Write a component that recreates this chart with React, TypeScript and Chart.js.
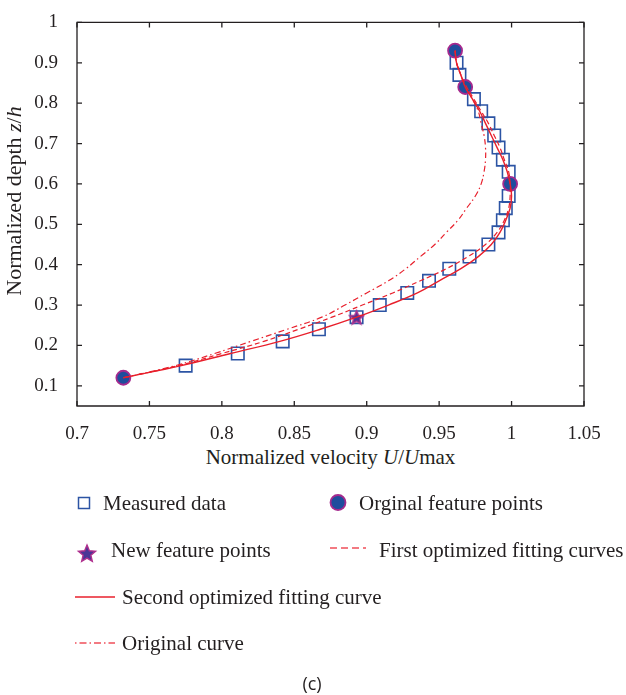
import React, { useEffect, useRef } from 'react';
import { Chart, registerables } from 'chart.js';

Chart.register(...registerables);

// ---- data ----
const measuredDepth = [0.15, 0.18, 0.21, 0.24, 0.27, 0.30, 0.33, 0.36, 0.39, 0.42, 0.45, 0.48, 0.51, 0.54, 0.57, 0.63, 0.66, 0.69, 0.72, 0.75, 0.78, 0.81, 0.87, 0.90];
const measuredVelocity = [0.775, 0.811, 0.842, 0.867, 0.893, 0.909, 0.928, 0.943, 0.957, 0.971, 0.984, 0.991, 0.994, 0.996, 0.998, 0.998, 0.994, 0.991, 0.988, 0.984, 0.979, 0.974, 0.964, 0.962];

const originalFeatureDepth = [0.12, 0.60, 0.84, 0.93];
const originalFeatureVelocity = [0.732, 0.999, 0.968, 0.961];

const newFeatureDepth = [0.27];
const newFeatureVelocity = [0.893];

const curveDepth = [0.12, 0.15, 0.18, 0.21, 0.24, 0.27, 0.30, 0.33, 0.36, 0.39, 0.42, 0.45, 0.48, 0.51, 0.54, 0.57, 0.60, 0.63, 0.66, 0.69, 0.72, 0.75, 0.78, 0.81, 0.84, 0.87, 0.90, 0.93];
const firstFitVelocity = [0.732, 0.770, 0.800, 0.829, 0.853, 0.876, 0.897, 0.918, 0.937, 0.955, 0.970, 0.982, 0.990, 0.995, 0.998, 0.999, 0.999, 0.998, 0.995, 0.992, 0.988, 0.984, 0.979, 0.974, 0.969, 0.965, 0.962, 0.961];
const secondFitVelocity = [0.732, 0.772, 0.806, 0.840, 0.868, 0.893, 0.915, 0.935, 0.950, 0.965, 0.977, 0.986, 0.992, 0.996, 0.999, 1.000, 0.999, 0.997, 0.994, 0.990, 0.986, 0.982, 0.978, 0.973, 0.968, 0.965, 0.962, 0.961];
const originalCurveVelocity = [0.732, 0.768, 0.795, 0.820, 0.845, 0.869, 0.885, 0.900, 0.915, 0.927, 0.937, 0.947, 0.955, 0.963, 0.969, 0.975, 0.979, 0.981, 0.982, 0.982, 0.981, 0.979, 0.977, 0.973, 0.968, 0.965, 0.962, 0.961];

const xTicks = [0.7, 0.75, 0.8, 0.85, 0.9, 0.95, 1, 1.05];
const yTicks = [0.1, 0.2, 0.3, 0.4, 0.5, 0.6, 0.7, 0.8, 0.9, 1];
const xTickLabels = ['0.7', '0.75', '0.8', '0.85', '0.9', '0.95', '1', '1.05'];
const yTickLabels = ['0.1', '0.2', '0.3', '0.4', '0.5', '0.6', '0.7', '0.8', '0.9', '1'];

const xTitleText = ['Normalized velocity ', 'U', '/', 'U', 'max'];
const yTitleText = ['Normalized depth ', 'z', '/', 'h'];
const legendLabels = ['Measured data', 'Orginal feature points', 'New feature points', 'First optimized fitting curves', 'Second optimized fitting curve', 'Original curve'];
const captionText = '(c)';

// ---- styles ----
const RED = '#e8202c';
const SQ_BLUE = '#2c54a4';
const DOT_FILL = '#1f4d9d';
const DOT_EDGE = '#a52a8e';
const STAR_FILL = '#4a3596';
const TEXT = '#231f20';
const SERIF = '"Liberation Serif", "DejaVu Serif", serif';

function makeStar(size: number, fill: string, stroke: string) {
  const c = document.createElement('canvas');
  c.width = size;
  c.height = size;
  const g = c.getContext('2d')!;
  const cx = size / 2;
  const cy = size / 2 + 0.8;
  const R = size / 2 - 1.2;
  const r = R * 0.45;
  g.beginPath();
  for (let i = 0; i < 10; i++) {
    const a = -Math.PI / 2 + (i * Math.PI) / 5;
    const rad = i % 2 ? r : R;
    g.lineTo(cx + rad * Math.cos(a), cy + rad * Math.sin(a));
  }
  g.closePath();
  g.fillStyle = fill;
  g.fill();
  g.strokeStyle = stroke;
  g.lineWidth = 1.4;
  g.stroke();
  return c;
}

const framePlugin = {
  id: 'frameTicks',
  afterDatasetsDraw(chart: any) {
    const { ctx, chartArea, scales } = chart;
    const { left, right, top, bottom } = chartArea;
    const x = scales.x;
    const y = scales.y;
    ctx.save();
    ctx.strokeStyle = TEXT;
    ctx.lineWidth = 1.3;
    ctx.beginPath();
    ctx.rect(left, top, right - left, bottom - top);
    ctx.stroke();
    ctx.beginPath();
    const tl = 5;
    xTicks.forEach((v) => {
      const px = x.getPixelForValue(v);
      ctx.moveTo(px, bottom);
      ctx.lineTo(px, bottom - tl);
      ctx.moveTo(px, top);
      ctx.lineTo(px, top + tl);
    });
    yTicks.forEach((v) => {
      const py = y.getPixelForValue(v);
      ctx.moveTo(left, py);
      ctx.lineTo(left + tl, py);
      ctx.moveTo(right, py);
      ctx.lineTo(right - tl, py);
    });
    ctx.stroke();
    ctx.restore();
  },
};

function pts(xs: number[], ys: number[]) {
  return xs.map((v, i) => ({ x: v, y: ys[i] }));
}

function ChartCanvas() {
  const ref = useRef<HTMLCanvasElement>(null);
  useEffect(() => {
    const canvas = ref.current!;
    const star = makeStar(17, STAR_FILL, '#b0308e');
    const curveBase = { showLine: true, pointRadius: 0, tension: 0.4, fill: false, borderColor: RED, order: 0 };
    const chart = new Chart(canvas, {
      type: 'scatter',
      data: {
        datasets: [
          { ...curveBase, label: legendLabels[5], data: pts(originalCurveVelocity, curveDepth), borderWidth: 1.2, borderDash: [6, 3, 1.5, 3] },
          { ...curveBase, label: legendLabels[3], data: pts(firstFitVelocity, curveDepth), borderWidth: 1.2, borderDash: [5, 3] },
          { ...curveBase, label: legendLabels[4], data: pts(secondFitVelocity, curveDepth), borderWidth: 1.4 },
          { label: legendLabels[2], data: pts(newFeatureVelocity, newFeatureDepth), pointStyle: star as any, pointRadius: 8, order: 1 },
          { label: legendLabels[1], data: pts(originalFeatureVelocity, originalFeatureDepth), pointStyle: 'circle', pointRadius: 7, backgroundColor: DOT_FILL, borderColor: DOT_EDGE, borderWidth: 1.8, order: 1 },
          { label: legendLabels[0], data: pts(measuredVelocity, measuredDepth), pointStyle: 'rect', pointRadius: 8.8, backgroundColor: 'rgba(255,255,255,0)', borderColor: SQ_BLUE, borderWidth: 1.6, order: 2 },
        ],
      } as any,
      options: {
        animation: false,
        responsive: false,
        devicePixelRatio: 1,
        layout: { padding: { left: 0, right: 42, top: 19, bottom: 0 } },
        plugins: { legend: { display: false }, tooltip: { enabled: false } },
        scales: {
          x: {
            type: 'linear',
            min: 0.7,
            max: 1.05,
            grid: { display: false },
            border: { display: false },
            afterBuildTicks: (s: any) => { s.ticks = xTicks.map((v) => ({ value: v })); },
            afterFit: (s: any) => { s.height = 34; },
            ticks: {
              padding: 9,
              color: TEXT,
              font: { family: SERIF, size: 19 },
              maxRotation: 0,
              callback: (_v: any, i: number) => xTickLabels[i],
            },
          },
          y: {
            type: 'linear',
            min: 0.05,
            max: 1,
            grid: { display: false },
            border: { display: false },
            afterBuildTicks: (s: any) => { s.ticks = yTicks.map((v) => ({ value: v })); },
            afterFit: (s: any) => { s.width = 77; },
            ticks: {
              padding: 11,
              color: TEXT,
              font: { family: SERIF, size: 19 },
              callback: (_v: any, i: number) => yTickLabels[i],
            },
          },
        },
      } as any,
      plugins: [framePlugin],
    });
    return () => chart.destroy();
  }, []);
  return <canvas ref={ref} width={626} height={440} style={{ position: 'absolute', left: 0, top: 0, width: 626, height: 440 }} />;
}

const textStyle = (left: number, cy: number, size = 21): React.CSSProperties => ({
  position: 'absolute',
  left,
  top: cy - 13,
  height: 26,
  lineHeight: '26px',
  fontFamily: SERIF,
  fontSize: size,
  color: TEXT,
  whiteSpace: 'nowrap',
});

function starPath(cx: number, cy: number, R: number) {
  const r = R * 0.45;
  const p: string[] = [];
  for (let i = 0; i < 10; i++) {
    const a = -Math.PI / 2 + (i * Math.PI) / 5;
    const rad = i % 2 ? r : R;
    p.push(`${(cx + rad * Math.cos(a)).toFixed(2)},${(cy + rad * Math.sin(a)).toFixed(2)}`);
  }
  return p.join(' ');
}

export default function App() {
  return (
    <div style={{ position: 'absolute', left: 0, top: 0, width: 626, height: 695, background: '#fff', overflow: 'hidden' }}>
      <ChartCanvas />
      {/* axis titles */}
      <div style={{ ...textStyle(77, 457, 21), width: 507, textAlign: 'center', left: 77 }}>
        {xTitleText[0]}<i>{xTitleText[1]}</i>{xTitleText[2]}<i>{xTitleText[3]}</i>{xTitleText[4]}
      </div>
      <div style={{ ...textStyle(14 - 200, 201, 22), width: 400, textAlign: 'center', transform: 'rotate(-90deg)' }}>
        {yTitleText[0]}<i>{yTitleText[1]}</i>{yTitleText[2]}<i>{yTitleText[3]}</i>
      </div>
      {/* legend markers */}
      <svg width={626} height={695} style={{ position: 'absolute', left: 0, top: 0 }}>
        <rect x={78.5} y={497.5} width={11} height={11} fill="none" stroke={SQ_BLUE} strokeWidth={1.5} />
        <circle cx={338} cy={502.5} r={7.5} fill={DOT_FILL} stroke={DOT_EDGE} strokeWidth={1.8} />
        <polygon points={starPath(87, 554, 9)} fill={STAR_FILL} stroke="#b0308e" strokeWidth={1.4} />
        <line x1={330} y1={548} x2={366} y2={548} stroke="#ef4f5a" strokeWidth={1.4} strokeDasharray="7,4" />
        <line x1={75} y1={597} x2={115} y2={597} stroke={RED} strokeWidth={1.4} />
        <line x1={75} y1={643} x2={115} y2={643} stroke="#ef4f5a" strokeWidth={1.4} strokeDasharray="1.5,3,7,3" />
      </svg>
      {/* legend text */}
      <div style={textStyle(103, 503)}>{legendLabels[0]}</div>
      <div style={textStyle(359, 503)}>{legendLabels[1]}</div>
      <div style={textStyle(111, 550)}>{legendLabels[2]}</div>
      <div style={textStyle(379, 550)}>{legendLabels[3]}</div>
      <div style={textStyle(122, 597)}>{legendLabels[4]}</div>
      <div style={textStyle(122, 643)}>{legendLabels[5]}</div>
      <div style={{ ...textStyle(262, 683, 18), width: 100, textAlign: 'center', fontFamily: '"Open Sans", "Noto Sans", sans-serif' }}>{captionText}</div>
    </div>
  );
}
